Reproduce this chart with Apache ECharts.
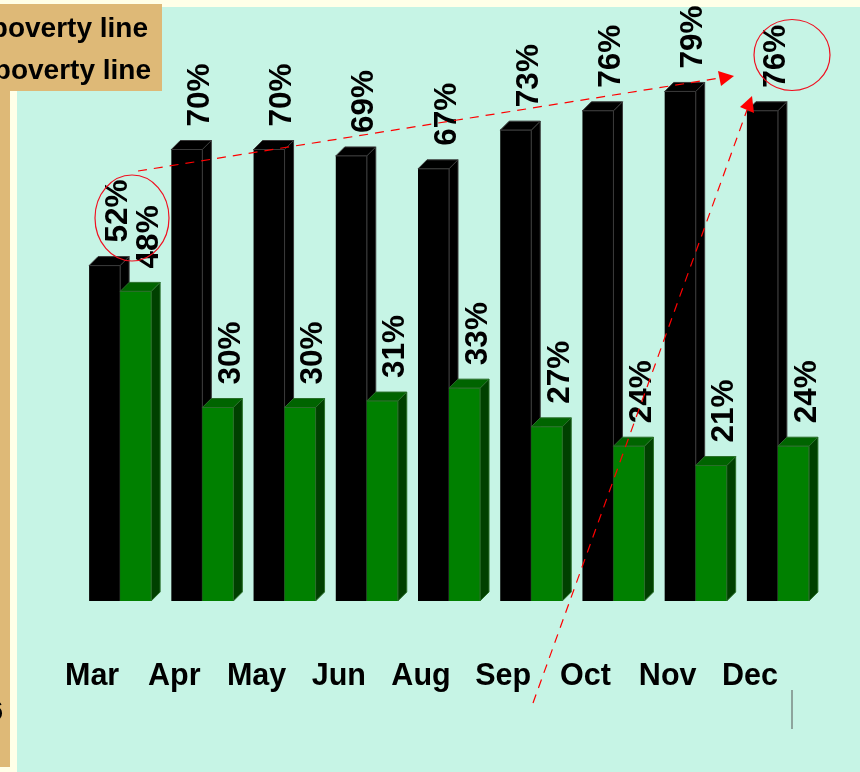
<!DOCTYPE html>
<html>
<head>
<meta charset="utf-8">
<style>
  html, body { margin: 0; padding: 0; background: #ffffe8; }
  #chart { width: 860px; height: 772px; }
</style>
<script src="https://cdn.jsdelivr.net/npm/echarts@6/dist/echarts.min.js"></script>
</head>
<body>
<div id="chart"></div>
<script>
const months = ['Mar', 'Apr', 'May', 'Jun', 'Aug', 'Sep', 'Oct', 'Nov', 'Dec']
const blackValues = [52, 70, 70, 69, 67, 73, 76, 79, 76]
const greenValues = [48, 30, 30, 31, 33, 27, 24, 21, 24]

const FONT = 'Liberation Sans, Arial, sans-serif'
const RED = '#ff0000'
const BAR_W = 31
const DEPTH = 9

// one fake-3D bar: side and top faces, front face, rotated value label
function bar3d(offset, colors) {
  return function (params, api) {
    const pos = api.coord([api.value(0), api.value(1)])
    const base = api.coord([api.value(0), 0])
    const l = pos[0] + offset
    const r = l + BAR_W
    const t = pos[1]
    const b = base[1]
    return {
      type: 'group',
      children: [
        {
          type: 'polygon',
          shape: { points: [[r, t], [r + DEPTH, t - DEPTH], [r + DEPTH, b - DEPTH], [r, b]] },
          style: { fill: colors.side, stroke: colors.edge, lineWidth: 1 },
        },
        {
          type: 'polygon',
          shape: { points: [[l, t], [l + DEPTH, t - DEPTH], [r + DEPTH, t - DEPTH], [r, t]] },
          style: { fill: colors.top, stroke: colors.edge, lineWidth: 1 },
        },
        {
          type: 'rect',
          shape: { x: l, y: t, width: BAR_W, height: b - t },
          style: { fill: colors.front },
        },
        {
          type: 'polyline',
          shape: { points: [[l, t], [r, t], [r, b]] },
          style: { fill: 'none', stroke: colors.edge, lineWidth: 1 },
        },
        {
          type: 'text',
          x: l + 29,
          y: t - DEPTH - 14,
          rotation: Math.PI / 2,
          z2: 50,
          style: {
            text: api.value(1) + '%',
            textAlign: 'left',
            textVerticalAlign: 'middle',
            fill: '#000',
            font: 'bold 31.5px ' + FONT,
          },
        },
      ],
    }
  }
}

function dashed(x1, y1, x2, y2) {
  return {
    type: 'line',
    z: 100,
    shape: { x1, y1, x2, y2 },
    style: { stroke: RED, lineWidth: 1.2, lineDash: [9, 7] },
  }
}

function head(points) {
  return { type: 'polygon', z: 100, shape: { points }, style: { fill: RED } }
}

function ellipse(cx, cy, rx, ry) {
  return {
    type: 'ellipse',
    z: 100,
    shape: { cx, cy, rx, ry },
    style: { fill: 'none', stroke: '#f01020', lineWidth: 1.2 },
  }
}

function boxText(text, right, y) {
  return {
    type: 'text',
    z: 20,
    x: right,
    y,
    style: {
      text,
      textAlign: 'right',
      textVerticalAlign: 'middle',
      fill: '#000',
      font: 'bold 28px ' + FONT,
    },
  }
}

const chart = echarts.init(document.getElementById('chart'))
chart.setOption({
  animation: false,
  backgroundColor: '#ffffe8',
  grid: { left: 79, width: 740, top: 20.5, height: 580.5 },
  xAxis: {
    type: 'category',
    data: months,
    axisLine: { show: false },
    axisTick: { show: false },
    axisLabel: {
      interval: 0,
      margin: 60,
      padding: [0, 56, 0, 0],
      color: '#000',
      fontFamily: FONT,
      fontWeight: 'bold',
      fontSize: 30.5,
    },
  },
  yAxis: { type: 'value', min: 0, max: 90, show: false },
  graphic: [
    { type: 'rect', z: -10, shape: { x: 17, y: 7, width: 843, height: 765 }, style: { fill: '#c6f4e5' } },
    { type: 'rect', z: 10, shape: { x: 0, y: 4, width: 162, height: 87 }, style: { fill: '#deb977' } },
    { type: 'rect', z: 10, shape: { x: 0, y: 91, width: 10, height: 676 }, style: { fill: '#deb977' } },
    boxText('poverty line', 148, 29),
    boxText('poverty line', 151, 71),
    boxText('6', 3, 712),
    dashed(138, 171, 720, 78),
    head([[734, 76], [718, 71], [721, 86]]),
    dashed(533, 703, 747, 110),
    head([[752, 96], [740, 107], [754, 113]]),
    ellipse(132, 218, 37, 43),
    ellipse(792, 55, 38, 35.5),
    {
      type: 'line',
      z: 100,
      shape: { x1: 792, y1: 690, x2: 792, y2: 729 },
      style: { stroke: '#555', lineWidth: 1 },
    },
  ],
  series: [
    {
      type: 'custom',
      name: 'black',
      clip: false,
      data: blackValues.map((v, i) => [i, v]),
      encode: { x: 0, y: 1 },
      renderItem: bar3d(-BAR_W, { front: '#000', top: '#000', side: '#000', edge: '#3a3a3a' }),
    },
    {
      type: 'custom',
      name: 'green',
      clip: false,
      data: greenValues.map((v, i) => [i, v]),
      encode: { x: 0, y: 1 },
      renderItem: bar3d(0, { front: '#008000', top: '#006400', side: '#004000', edge: '#2a6f2a' }),
    },
  ],
})
</script>
</body>
</html>
